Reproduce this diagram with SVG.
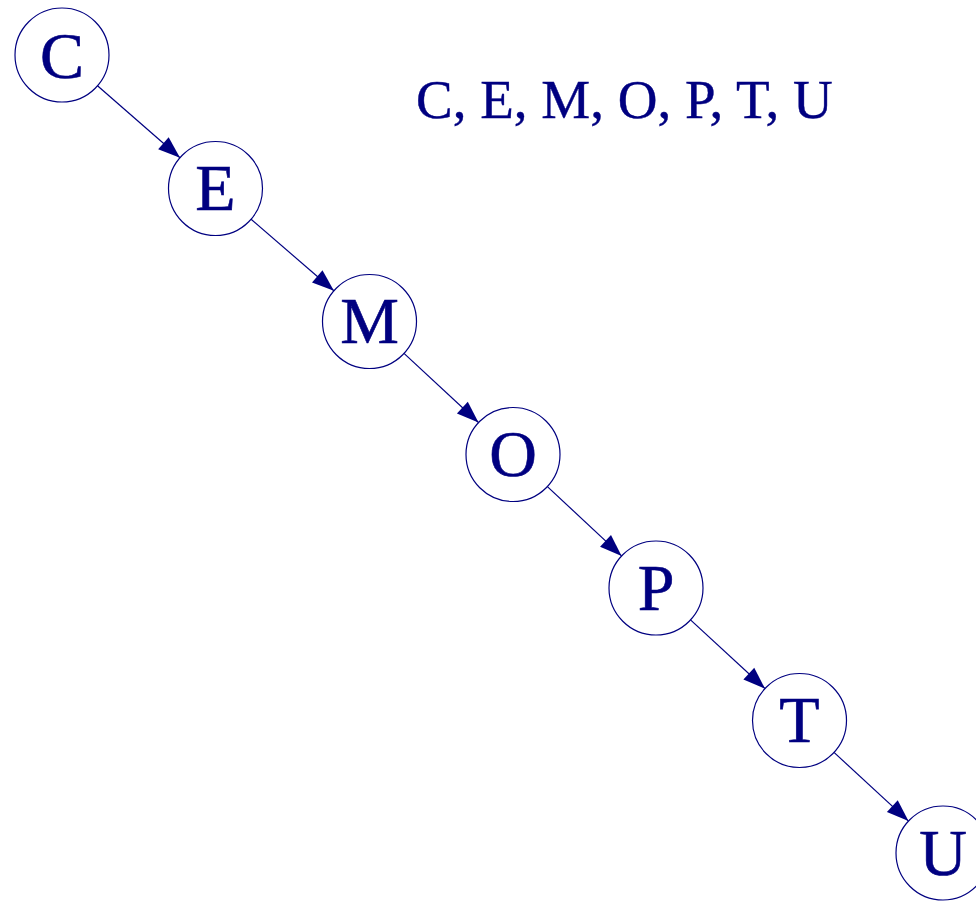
<svg xmlns="http://www.w3.org/2000/svg" width="976" height="901" viewBox="0 0 976 901">
<style>
.node circle{fill:#fff;stroke:#000080;stroke-width:1.2}
.node text{font-family:"Liberation Serif","Times New Roman",serif;font-size:66px;fill:#000080;stroke:#000080;stroke-width:0.6;text-anchor:middle}
.edges line{stroke:#000080;stroke-width:1.2;marker-end:url(#arr)}
.title{font-family:"Liberation Serif","Times New Roman",serif;font-size:55px;fill:#000080;stroke:#000080;stroke-width:0.4}
</style>
<defs>
<marker id="arr" markerUnits="userSpaceOnUse" markerWidth="24" markerHeight="18" refX="23" refY="9" orient="auto">
<path d="M1,1 L23,9 L1,17 z" fill="#000080"/>
</marker>
</defs>
<rect width="976" height="901" fill="#fff"/>
<g class="edges">
<line x1="97.5" y1="85.8" x2="180" y2="157.7"/>
<line x1="251.1" y1="219.2" x2="333.9" y2="290.8"/>
<line x1="404" y1="353.4" x2="478.5" y2="422.5"/>
<line x1="547.4" y1="486.6" x2="621.6" y2="555.9"/>
<line x1="690.5" y1="619.9" x2="765" y2="688.6"/>
<line x1="834" y1="752.4" x2="908.5" y2="821.1"/>
</g>
<g id="node-C" class="node"><circle cx="62" cy="55" r="47"/><text x="62" y="77.5">C</text></g>
<g id="node-E" class="node"><circle cx="215.5" cy="188.5" r="47"/><text x="215.5" y="210">E</text></g>
<g id="node-M" class="node"><circle cx="369.5" cy="321.5" r="47"/><text x="369.5" y="343">M</text></g>
<g id="node-O" class="node"><circle cx="513" cy="454.5" r="47"/><text x="513" y="476">O</text></g>
<g id="node-P" class="node"><circle cx="656" cy="588" r="47"/><text x="656" y="609.5">P</text></g>
<g id="node-T" class="node"><circle cx="799.5" cy="720.5" r="47"/><text x="799.5" y="742">T</text></g>
<g id="node-U" class="node"><circle cx="943" cy="853" r="47"/><text x="943" y="874.5">U</text></g>
<text class="title" x="416" y="118">C, E, M, O, P, T, U</text>
</svg>
